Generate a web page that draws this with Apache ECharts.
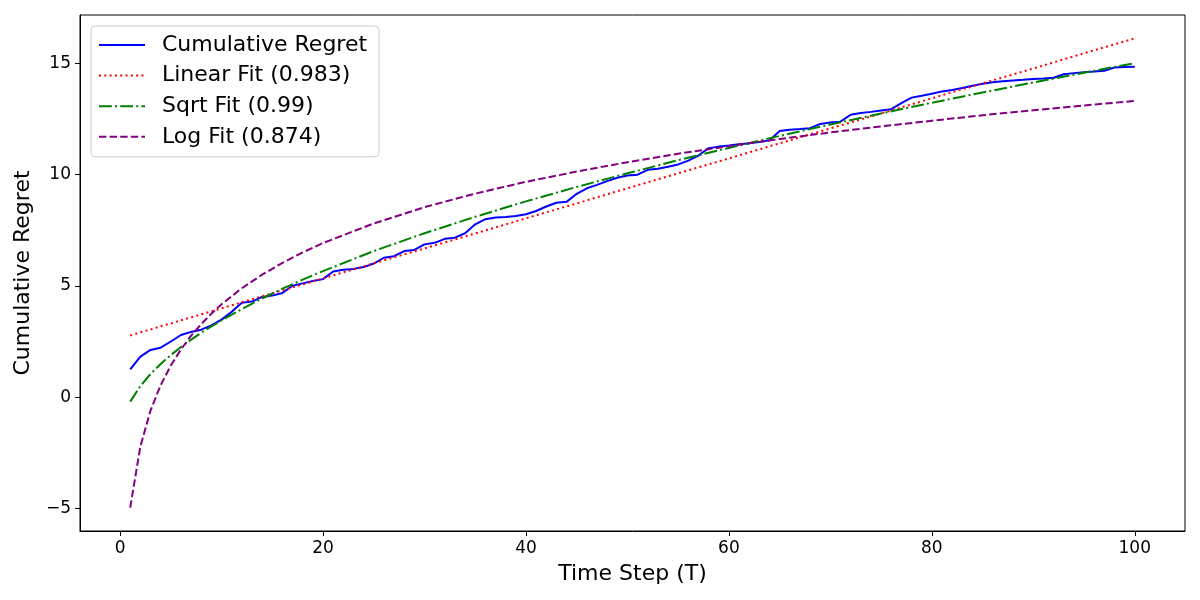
<!DOCTYPE html>
<html>
<head>
<meta charset="utf-8">
<script src="https://cdn.jsdelivr.net/npm/echarts@6/dist/echarts.min.js"></script>
<style>
	html,body{margin:0;padding:0;background:#fff;}
	#chart{width:1200px;height:600px;}
</style>
</head>
<body>
<div id="chart"></div>
<script>
// time steps of the regret curve
const steps = [1,2,3,4,5,6,7,8,9,10,11,12,13,14,15,16,17,18,19,20,21,22,23,24,25,26,27,28,29,30,31,32,33,34,35,36,37,38,39,40,41,42,43,44,45,46,47,48,49,50,51,52,53,54,55,56,57,58,59,60,61,62,63,64,65,66,67,68,69,70,71,72,73,74,75,76,77,78,79,80,81,82,83,84,85,86,87,88,89,90,91,92,93,94,95,96,97,98,99,100];
const regret = [1.25,1.82,2.12,2.22,2.50,2.79,2.93,3.03,3.22,3.48,3.83,4.24,4.29,4.50,4.56,4.68,5.00,5.11,5.22,5.30,
	5.64,5.72,5.76,5.84,6.00,6.26,6.33,6.56,6.61,6.86,6.93,7.11,7.16,7.36,7.76,7.99,8.07,8.09,8.13,8.21,
	8.36,8.56,8.73,8.77,9.13,9.38,9.53,9.70,9.85,9.95,9.99,10.21,10.26,10.35,10.45,10.62,10.85,11.18,11.25,11.30,
	11.36,11.40,11.46,11.53,11.95,12.01,12.04,12.08,12.27,12.33,12.37,12.68,12.76,12.81,12.87,12.93,13.20,13.45,13.53,13.62,
	13.73,13.79,13.88,13.98,14.07,14.14,14.18,14.22,14.25,14.29,14.31,14.34,14.50,14.55,14.59,14.62,14.66,14.80,14.82,14.84];
// fitted curves, read at these steps
const fitSteps = [1,2,3,4,5,6,7,8,9,10,12,14,16,18,20,25,30,35,40,45,50,55,60,65,70,75,80,85,90,95,100];
const linearFit = [2.77,2.91,3.04,3.18,3.31,3.45,3.58,3.72,3.85,3.99,4.26,4.53,4.80,5.06,5.33,6.01,6.68,7.35,8.03,8.70,9.38,10.05,10.72,11.40,12.07,12.74,13.42,14.09,14.76,15.44,16.11];
const sqrtFit = [-0.20,0.50,1.04,1.49,1.89,2.25,2.58,2.89,3.18,3.45,3.96,4.43,4.87,5.28,5.66,6.56,7.36,8.10,8.79,9.44,10.05,10.64,11.19,11.73,12.24,12.74,13.22,13.68,14.13,14.57,15.00];
const logFit = [-4.96,-2.21,-0.60,0.54,1.42,2.14,2.76,3.28,3.75,4.17,4.89,5.50,6.03,6.50,6.92,7.80,8.53,9.14,9.67,10.13,10.55,10.93,11.27,11.59,11.89,12.16,12.41,12.66,12.88,13.10,13.30];
const xTicks = [0,20,40,60,80,100];
const yTicks = [-5,0,5,10,15];
const names = ['Cumulative Regret','Linear Fit (0.983)','Sqrt Fit (0.99)','Log Fit (0.874)'];

const font = 'DejaVu Sans';
const pairs = (xs, ys) => xs.map((x, k) => [x, ys[k]]);

function lineSeries(name, data, color, type){
	return {
		name: name,
		type: 'line',
		data: data,
		symbol: 'none',
		showSymbol: false,
		lineStyle: {color: color, width: 2, type: type, cap: 'butt'},
		itemStyle: {color: color},
		emphasis: {disabled: true}
	};
}

let chart = echarts.init(document.getElementById('chart'));
let option = {
	animation: false,
	textStyle: {fontFamily: font},
	grid: {
		left: 80, right: 15, top: 15, bottom: 69,
		show: true, borderColor: '#000', borderWidth: 1, backgroundColor: 'transparent'
	},
	legend: {
		orient: 'vertical',
		left: 91, top: 26,
		padding: [8, 12, 9, 7],
		itemWidth: 46, itemHeight: 12, itemGap: 8.6,
		borderColor: '#cccccc', borderWidth: 1, borderRadius: 4,
		backgroundColor: 'rgba(255,255,255,0.8)',
		itemStyle: {opacity: 0},
		textStyle: {fontSize: 22, lineHeight: 22, color: '#000', fontFamily: font, padding: [0, 0, 0, 12]},
		data: names
	},
	xAxis: {
		type: 'value',
		min: -3.95, max: 104.95,
		name: 'Time Step (T)',
		nameLocation: 'middle', nameGap: 32,
		nameTextStyle: {fontSize: 22, color: '#000', fontFamily: font},
		splitLine: {show: false},
		axisLine: {show: true, onZero: false, lineStyle: {color: '#000'}},
		axisTick: {show: true, length: 5, lineStyle: {color: '#000'}, customValues: xTicks},
		axisLabel: {fontSize: 17, color: '#000', margin: 9, customValues: xTicks, fontFamily: font}
	},
	yAxis: {
		type: 'value',
		min: -6.01, max: 17.16,
		name: 'Cumulative Regret',
		nameLocation: 'middle', nameGap: 46,
		nameTextStyle: {fontSize: 22, color: '#000', fontFamily: font},
		splitLine: {show: false},
		axisLine: {show: true, onZero: false, lineStyle: {color: '#000'}},
		axisTick: {show: true, length: 5, lineStyle: {color: '#000'}, customValues: yTicks},
		axisLabel: {fontSize: 17, color: '#000', margin: 9, customValues: yTicks, fontFamily: font,
			formatter: v => (v < 0 ? '\u2212' + Math.abs(v) : String(v))}
	},
	series: [
		lineSeries(names[0], pairs(steps, regret), '#0000ff', 'solid'),
		lineSeries(names[1], pairs(fitSteps, linearFit), '#ff0000', [2, 3.3]),
		lineSeries(names[2], pairs(fitSteps, sqrtFit), '#008000', [12.8, 3.2, 2, 3.2]),
		lineSeries(names[3], pairs(fitSteps, logFit), '#800080', [7.4, 3.2])
	]
};
chart.setOption(option, true);
</script>
</body>
</html>
